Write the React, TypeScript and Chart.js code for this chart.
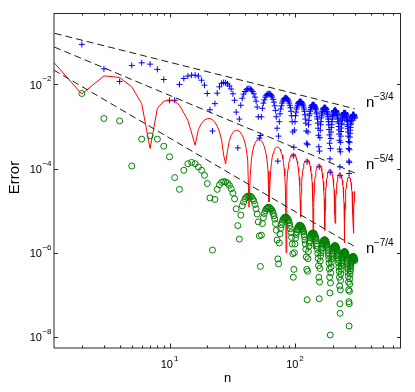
import React, { useEffect, useRef } from "react";
import { Chart, registerables } from "chart.js";

Chart.register(...registerables);

// n = 1 .. 300
const nValues: number[] = Array.from({ length: 300 }, (_, i) => i + 1);

// blue "+" series
const blueErr: (number | null)[] = [
  null, 0.0896, 0.0235, 0.0118, 0.0283, 0.0327, 0.0304, 0.0228, 0.0131, 0.0042,
  0.0042, 0.0100, 0.0139, 0.0158, 0.0166, 0.0166, 0.0158, 0.0126, 0.0096, 0.0061,
  0.0025, 7.8e-4, 0.0035, 0.0062, 0.0088, 0.0106, 0.0111, 0.0110, 0.0103, 0.0092,
  0.0078, 0.0060, 0.0042, 0.0022, 3.1e-4, 0.0015, 0.0032, 0.0047, 0.0059, 0.0068,
  0.0075, 0.0079, 0.0080, 0.0078, 0.0074, 0.0068, 0.0060, 0.0050, 0.0040, 0.0029,
  0.0017, 5.3e-4, 6.1e-4, 0.0017, 0.0027, 0.0036, 0.0043, 0.0050, 0.0055, 0.0058,
  0.0060, 0.0060, 0.0060, 0.0058, 0.0054, 0.0050, 0.0044, 0.0038, 0.0031, 0.0024,
  0.0017, 9.1e-4, 1.5e-4, 5.9e-4, 0.0013, 0.0020, 0.0026, 0.0031, 0.0036, 0.0040,
  0.0043, 0.0046, 0.0047, 0.0048, 0.0048, 0.0047, 0.0045, 0.0043, 0.0040, 0.0036,
  0.0032, 0.0028, 0.0023, 0.0018, 0.0013, 7.4e-4, 2.0e-4, 3.2e-4, 8.2e-4, 0.0013,
  0.0018, 0.0022, 0.0026, 0.0029, 0.0032, 0.0035, 0.0037, 0.0038, 0.0039, 0.0039,
  0.0039, 0.0039, 0.0037, 0.0036, 0.0034, 0.0032, 0.0029, 0.0026, 0.0023, 0.0019,
  0.0015, 0.0012, 7.8e-4, 4.0e-4, 1.45e-4, 3.7e-4, 7.4e-4, 0.0011, 0.0014, 0.0018,
  0.0020, 0.0023, 0.0025, 0.0028, 0.0029, 0.0031, 0.0032, 0.0032, 0.0033, 0.0033,
  0.0033, 0.0032, 0.0031, 0.0030, 0.0028, 0.0027, 0.0025, 0.0022, 0.0020, 0.0017,
  0.0015, 0.0012, 9.1e-4, 6.2e-4, 3.3e-4, 1.1e-4, 2.6e-4, 5.4e-4, 8.1e-4, 0.0011,
  0.0013, 0.0016, 0.0018, 0.0020, 0.0022, 0.0023, 0.0025, 0.0026, 0.0027, 0.0027,
  0.0028, 0.0028, 0.0028, 0.0028, 0.0027, 0.0027, 0.0026, 0.0025, 0.0023, 0.0022,
  0.0020, 0.0019, 0.0017, 0.0015, 0.0013, 0.0011, 8.5e-4, 6.3e-4, 4.0e-4, 1.7e-4,
  8.1e-5, 3.0e-4, 5.2e-4, 7.4e-4, 9.4e-4, 0.0011, 0.0013, 0.0015, 0.0017, 0.0018,
  0.0019, 0.0021, 0.0022, 0.0023, 0.0023, 0.0024, 0.0024, 0.0024, 0.0024, 0.0024,
  0.0024, 0.0023, 0.0023, 0.0022, 0.0021, 0.0020, 0.0019, 0.0018, 0.0016, 0.0015,
  0.0013, 0.0012, 0.0010, 8.3e-4, 6.6e-4, 4.7e-4, 2.9e-4, 1.1e-4, 6.8e-5, 2.5e-4,
  4.2e-4, 5.9e-4, 7.6e-4, 9.2e-4, 0.0011, 0.0012, 0.0014, 0.0015, 0.0016, 0.0017,
  0.0018, 0.0019, 0.0020, 0.0020, 0.0021, 0.0021, 0.0021, 0.0021, 0.0021, 0.0021,
  0.0021, 0.0021, 0.0020, 0.0020, 0.0019, 0.0018, 0.0017, 0.0016, 0.0015, 0.0014,
  0.0013, 0.0011, 0.0010, 8.8e-4, 7.4e-4, 5.9e-4, 4.4e-4, 3.0e-4, 1.5e-4, 7.6e-5,
  1.4e-4, 2.8e-4, 4.2e-4, 5.6e-4, 6.9e-4, 8.2e-4, 9.5e-4, 0.0011, 0.0012, 0.0013,
  0.0014, 0.0015, 0.0016, 0.0016, 0.0017, 0.0017, 0.0018, 0.0018, 0.0019, 0.0019,
  0.0019, 0.0019, 0.0019, 0.0019, 0.0018, 0.0018, 0.0018, 0.0017, 0.0016, 0.0016,
];

// red line series
const redErr: number[] = [
  0.061, 0.0059, 0.016, 0.0147, 0.0088, 0.0035, 0.0003, 0.0027, 0.0040, 0.0042,
  0.0040, 0.0032, 0.0021, 0.0014, 0.0007, 3.6e-4, 8.5e-4, 0.0012, 0.00143, 0.00153,
  0.00155, 0.00143, 0.00127, 0.00101, 7.5e-4, 4.8e-4, 2.1e-4, 1.3e-4, 2.7e-4, 4.6e-4,
  6.1e-4, 7.2e-4, 7.8e-4, 8.1e-4, 8.1e-4, 7.7e-4, 7.0e-4, 6.2e-4, 5.2e-4, 4.0e-4,
  2.8e-4, 1.6e-4, 1.2e-5, 6.8e-5, 1.7e-4, 2.6e-4, 3.4e-4, 4.0e-4, 4.4e-4, 4.8e-4,
  4.9e-4, 4.9e-4, 4.8e-4, 4.6e-4, 4.2e-4, 3.8e-4, 3.3e-4, 2.7e-4, 2.1e-4, 1.5e-4,
  8.6e-5, 1.6e-5, 3.5e-5, 9.1e-5, 1.4e-4, 1.9e-4, 2.3e-4, 2.6e-4, 2.9e-4, 3.1e-4,
  3.2e-4, 3.2e-4, 3.2e-4, 3.2e-4, 3.0e-4, 2.9e-4, 2.6e-4, 2.3e-4, 2.1e-4, 1.7e-4,
  1.4e-4, 1.0e-4, 6.6e-5, 3.0e-5, 1.0e-6, 3.8e-5, 7.1e-5, 1.0e-4, 1.3e-4, 1.5e-4,
  1.7e-4, 1.9e-4, 2.0e-4, 2.2e-4, 2.2e-4, 2.2e-4, 2.2e-4, 2.2e-4, 2.2e-4, 2.1e-4,
  2.0e-4, 1.8e-4, 1.6e-4, 1.5e-4, 1.3e-4, 1.06e-4, 8.4e-5, 6.2e-5, 3.9e-5, 1.7e-5,
  7e-6, 2.6e-5, 4.7e-5, 6.6e-5, 8.4e-5, 1.0e-4, 1.16e-4, 1.29e-4, 1.4e-4, 1.5e-4,
  1.56e-4, 1.6e-4, 1.65e-4, 1.66e-4, 1.65e-4, 1.63e-4, 1.6e-4, 1.5e-4, 1.45e-4, 1.37e-4,
  1.26e-4, 1.15e-4, 1.0e-4, 8.9e-5, 7.5e-5, 6.1e-5, 4.6e-5, 3.1e-5, 1.7e-5, 1.25e-6,
  1.2e-5, 2.6e-5, 4.0e-5, 5.2e-5, 6.4e-5, 7.5e-5, 8.5e-5, 9.5e-5, 1.02e-4, 1.09e-4,
  1.15e-4, 1.19e-4, 1.22e-4, 1.24e-4, 1.25e-4, 1.25e-4, 1.24e-4, 1.21e-4, 1.17e-4, 1.13e-4,
  1.07e-4, 1.01e-4, 9.4e-5, 8.6e-5, 7.7e-5, 6.9e-5, 5.9e-5, 4.9e-5, 4.0e-5, 3.0e-5,
  1.9e-5, 9.4e-6, 3.4e-6, 1.03e-5, 2.0e-5, 2.9e-5, 3.8e-5, 4.6e-5, 5.4e-5, 6.1e-5,
  6.8e-5, 7.3e-5, 7.9e-5, 8.3e-5, 8.7e-5, 9.1e-5, 9.3e-5, 9.5e-5, 9.6e-5, 9.6e-5,
  9.5e-5, 9.4e-5, 9.2e-5, 8.9e-5, 8.6e-5, 8.2e-5, 7.8e-5, 7.3e-5, 6.8e-5, 6.4e-5,
  5.8e-5, 5.1e-5, 4.5e-5, 3.8e-5, 3.1e-5, 2.3e-5, 1.6e-5, 8.7e-6, 5.0e-6, 5.7e-6,
  1.3e-5, 2.0e-5, 2.6e-5, 3.3e-5, 3.9e-5, 4.4e-5, 5.0e-5, 5.5e-5, 5.9e-5, 6.3e-5,
  6.7e-5, 7.0e-5, 7.3e-5, 7.5e-5, 7.6e-5, 7.7e-5, 7.8e-5, 7.8e-5, 7.7e-5, 7.6e-5,
  7.5e-5, 7.3e-5, 7.1e-5, 6.8e-5, 6.5e-5, 6.2e-5, 5.8e-5, 5.4e-5, 5.0e-5, 4.6e-5,
  4.1e-5, 3.6e-5, 3.1e-5, 2.6e-5, 2.1e-5, 1.5e-5, 1.0e-5, 4.8e-6, 1.7e-6, 5.8e-6,
  1.1e-5, 1.6e-5, 2.1e-5, 2.6e-5, 3.0e-5, 3.4e-5, 3.8e-5, 4.2e-5, 4.6e-5, 4.9e-5,
  5.2e-5, 5.5e-5, 5.7e-5, 5.9e-5, 6.0e-5, 6.2e-5, 6.3e-5, 6.3e-5, 6.3e-5, 6.3e-5,
  6.3e-5, 6.2e-5, 6.1e-5, 6.0e-5, 5.8e-5, 5.6e-5, 5.4e-5, 5.1e-5, 4.9e-5, 4.6e-5,
  4.3e-5, 3.9e-5, 3.6e-5, 3.2e-5, 2.8e-5, 2.4e-5, 2.1e-5, 1.7e-5, 1.3e-5, 8.4e-6,
  4.3e-6, 2.9e-6, 3.8e-6, 7.9e-6, 1.2e-5, 1.6e-5, 1.9e-5, 2.3e-5, 2.6e-5, 2.9e-5,
];

// green "o" series
const greenErr: (number | null)[] = [
  null, 0.0061, 0.00155, 0.00136, 1.15e-4, 5.0e-4, 6.0e-4, 5.0e-4, 3.4e-4, 1.9e-4,
  6.1e-5, 3.2e-5, 9.1e-5, 1.3e-4, 1.4e-4, 1.3e-4, 1.09e-4, 9.1e-5, 6.9e-5, 4.4e-5,
  2.0e-5, 1.15e-6, 1.85e-5, 3.2e-5, 4.1e-5, 4.7e-5, 4.9e-5, 4.8e-5, 4.5e-5, 4.0e-5,
  3.3e-5, 2.6e-5, 1.9e-5, 1.1e-5, 4.4e-6, 2.1e-6, 7.8e-6, 1.3e-5, 1.6e-5, 1.9e-5,
  2.1e-5, 2.2e-5, 2.2e-5, 2.2e-5, 2.1e-5, 1.9e-5, 1.7e-5, 1.4e-5, 1.1e-5, 8.3e-6,
  5.4e-6, 2.5e-6, 4.7e-7, 2.6e-6, 4.9e-6, 6.8e-6, 8.5e-6, 9.9e-6, 1.09e-5, 1.15e-5,
  1.19e-5, 1.2e-5, 1.17e-5, 1.1e-5, 1.06e-5, 9.7e-6, 8.6e-6, 7.5e-6, 6.3e-6, 4.9e-6,
  3.4e-6, 2.0e-6, 7.1e-7, 5.4e-7, 1.7e-6, 2.8e-6, 3.8e-6, 4.6e-6, 5.3e-6, 5.9e-6,
  6.4e-6, 6.7e-6, 6.9e-6, 7.0e-6, 6.9e-6, 6.8e-6, 6.5e-6, 6.1e-6, 5.7e-6, 5.1e-6,
  4.4e-6, 3.7e-6, 3.0e-6, 2.3e-6, 1.6e-6, 9.4e-7, 2.6e-7, 4.0e-7, 1.0e-6, 1.6e-6,
  2.2e-6, 2.7e-6, 3.1e-6, 3.5e-6, 3.8e-6, 4.1e-6, 4.2e-6, 4.4e-6, 4.5e-6, 4.4e-6,
  4.4e-6, 4.3e-6, 4.1e-6, 3.9e-6, 3.7e-6, 3.4e-6, 3.1e-6, 2.7e-6, 2.4e-6, 2.0e-6,
  1.6e-6, 1.2e-6, 7.9e-7, 4.0e-7, 7.6e-8, 3.6e-7, 7.2e-7, 1.06e-6, 1.4e-6, 1.7e-6,
  1.9e-6, 2.2e-6, 2.4e-6, 2.6e-6, 2.7e-6, 2.8e-6, 2.9e-6, 2.9e-6, 2.9e-6, 2.9e-6,
  2.9e-6, 2.8e-6, 2.7e-6, 2.6e-6, 2.4e-6, 2.3e-6, 2.1e-6, 1.9e-6, 1.65e-6, 1.43e-6,
  1.2e-6, 9.7e-7, 7.3e-7, 4.9e-7, 2.6e-7, 8.0e-8, 2.0e-7, 4.2e-7, 6.3e-7, 8.3e-7,
  1.0e-6, 1.2e-6, 1.3e-6, 1.5e-6, 1.6e-6, 1.7e-6, 1.8e-6, 1.9e-6, 1.9e-6, 2.0e-6,
  2.0e-6, 2.0e-6, 2.0e-6, 2.0e-6, 1.9e-6, 1.9e-6, 1.8e-6, 1.7e-6, 1.6e-6, 1.5e-6,
  1.4e-6, 1.26e-6, 1.13e-6, 9.9e-7, 8.5e-7, 7.0e-7, 5.6e-7, 4.1e-7, 2.6e-7, 1.1e-7,
  1.1e-8, 1.9e-7, 3.3e-7, 4.6e-7, 5.9e-7, 7.0e-7, 8.2e-7, 9.2e-7, 1.0e-6, 1.1e-6,
  1.2e-6, 1.26e-6, 1.32e-6, 1.37e-6, 1.41e-6, 1.44e-6, 1.45e-6, 1.46e-6, 1.46e-6, 1.45e-6,
  1.42e-6, 1.39e-6, 1.35e-6, 1.3e-6, 1.24e-6, 1.18e-6, 1.1e-6, 1.02e-6, 9.4e-7, 8.5e-7,
  7.6e-7, 6.6e-7, 5.6e-7, 4.6e-7, 3.6e-7, 2.6e-7, 1.6e-7, 6.1e-8, 3.6e-8, 1.3e-7,
  2.2e-7, 3.1e-7, 4.0e-7, 4.8e-7, 5.6e-7, 6.3e-7, 7.0e-7, 7.6e-7, 8.1e-7, 8.6e-7,
  9.1e-7, 9.4e-7, 9.7e-7, 1.0e-6, 1.0e-6, 1.03e-6, 1.05e-6, 1.05e-6, 1.05e-6, 1.05e-6,
  1.03e-6, 1.0e-6, 9.8e-7, 9.5e-7, 9.0e-7, 8.6e-7, 8.2e-7, 7.7e-7, 7.1e-7, 6.5e-7,
  5.9e-7, 5.3e-7, 4.6e-7, 4.0e-7, 3.4e-7, 2.7e-7, 2.0e-7, 1.3e-7, 6.8e-8, 1.8e-8,
  6.1e-8, 1.2e-7, 1.8e-7, 2.4e-7, 3.1e-7, 3.7e-7, 4.2e-7, 4.7e-7, 5.2e-7, 5.7e-7,
  6.1e-7, 6.5e-7, 6.8e-7, 7.1e-7, 7.4e-7, 7.6e-7, 7.8e-7, 7.9e-7, 8.0e-7, 8.0e-7,
  8.1e-7, 8.0e-7, 8.0e-7, 7.9e-7, 7.7e-7, 7.5e-7, 7.3e-7, 7.1e-7, 6.8e-7, 6.5e-7,
];

// dashed reference lines (end points)
const refN = [1, 300];
const ref34 = [0.19, 0.00264];
const ref54 = [0.098, 7.85e-5];
const ref74 = [0.03, 1.39e-6];

// axes
const X_MIN = 1.2;
const X_MAX = 700;
const Y_MIN = 5.4e-9;
const Y_MAX = 0.5;
const xMajorTicks = [10, 100];
const xMajorExp = ["1", "2"];
const yMajorTicks = [1e-8, 1e-6, 1e-4, 1e-2];
const yMajorExp = ["\u22128", "\u22126", "\u22124", "\u22122"];

// annotations "n^-p"
const annN = 368;
const annY = [2.9e-3, 1e-4, 1e-6];
const annExp = ["\u22123/4", "\u22125/4", "\u22127/4"];

const FONT = '"Liberation Sans", Arial, Helvetica, sans-serif';

const toPts = (xs: number[], ys: (number | null)[]) =>
  xs.map((x, i) => ({ x, y: ys[i] })).filter((p) => p.y != null) as { x: number; y: number }[];

const axesPlugin = {
  id: "matlabAxes",
  afterDatasetsDraw(chart: any) {
    const { ctx, chartArea: a, scales } = chart;
    const xs = scales.x;
    const ys = scales.y;
    ctx.save();
    ctx.strokeStyle = "#262626";
    ctx.lineWidth = 1;
    // box
    ctx.beginPath();
    ctx.moveTo(a.left, a.top + 0.5);
    ctx.lineTo(a.right, a.top + 0.5);
    ctx.moveTo(a.right - 0.5, a.top);
    ctx.lineTo(a.right - 0.5, a.bottom);
    ctx.stroke();
    ctx.beginPath();
    ctx.moveTo(a.left, a.top);
    ctx.lineTo(a.left, a.bottom);
    ctx.moveTo(a.left, a.bottom);
    ctx.lineTo(a.right, a.bottom);
    ctx.stroke();

    // x ticks
    const xMinor: number[] = [];
    for (const dec of [1, 10, 100]) {
      for (let k = 2; k <= 9; k++) {
        const v = k * dec;
        if (v > X_MIN && v < X_MAX) xMinor.push(v);
      }
    }
    ctx.beginPath();
    for (const v of xMinor) {
      const px = Math.round(xs.getPixelForValue(v)) + 0.5;
      ctx.moveTo(px, a.bottom);
      ctx.lineTo(px, a.bottom - 2.5);
      ctx.moveTo(px, a.top);
      ctx.lineTo(px, a.top + 2.5);
    }
    for (const v of xMajorTicks) {
      const px = Math.round(xs.getPixelForValue(v)) + 0.5;
      ctx.moveTo(px, a.bottom);
      ctx.lineTo(px, a.bottom - 4.5);
      ctx.moveTo(px, a.top);
      ctx.lineTo(px, a.top + 4.5);
    }
    for (const v of yMajorTicks) {
      const py = Math.round(ys.getPixelForValue(v)) + 0.5;
      ctx.moveTo(a.left, py);
      ctx.lineTo(a.left + 4, py);
      ctx.moveTo(a.right, py);
      ctx.lineTo(a.right - 4, py);
    }
    ctx.stroke();

    // tick labels
    ctx.fillStyle = "#000";
    ctx.textAlign = "left";
    ctx.textBaseline = "alphabetic";
    const bigFont = `11px ${FONT}`;
    const smallFont = `8px ${FONT}`;
    xMajorTicks.forEach((v, i) => {
      const px = xs.getPixelForValue(v);
      ctx.font = bigFont;
      const w1 = ctx.measureText("10").width;
      ctx.font = smallFont;
      const w2 = ctx.measureText(xMajorExp[i]).width;
      const start = px - (w1 + w2 + 1) / 2;
      ctx.font = bigFont;
      ctx.fillText("10", start, a.bottom + 19.5);
      ctx.font = smallFont;
      ctx.fillText(xMajorExp[i], start + w1 + 1, a.bottom + 12.5);
    });
    yMajorTicks.forEach((v, i) => {
      const py = ys.getPixelForValue(v);
      ctx.font = smallFont;
      const w2 = ctx.measureText(yMajorExp[i]).width;
      const right = a.left - 2.5;
      ctx.fillText(yMajorExp[i], right - w2, py - 3);
      ctx.font = bigFont;
      const w1 = ctx.measureText("10").width;
      ctx.fillText("10", right - w2 - 0.5 - w1, py + 4.5);
    });

    // axis titles
    ctx.font = `13px ${FONT}`;
    ctx.textAlign = "center";
    ctx.fillText("n", (a.left + a.right) / 2, a.bottom + 34);
    ctx.save();
    ctx.translate(15, (a.top + a.bottom) / 2 - 3);
    ctx.rotate(-Math.PI / 2);
    ctx.font = `15px ${FONT}`;
    ctx.textBaseline = "middle";
    ctx.fillText("Error", 0, 0);
    ctx.restore();

    // annotations
    ctx.textAlign = "left";
    ctx.textBaseline = "alphabetic";
    annY.forEach((v, i) => {
      const px = xs.getPixelForValue(annN);
      const py = ys.getPixelForValue(v);
      ctx.font = `15px ${FONT}`;
      ctx.fillText("n", px, py);
      const wn = ctx.measureText("n").width;
      ctx.font = `10px ${FONT}`;
      ctx.fillText(annExp[i], px + wn - 0.5, py - 7);
    });
    ctx.restore();
  },
};

export default function App() {
  const ref = useRef<HTMLCanvasElement | null>(null);
  useEffect(() => {
    if (!ref.current) return;
    const dash = (ys: number[]) => ({
      data: toPts(refN, ys),
      showLine: true,
      borderColor: "#1a1a1a",
      borderWidth: 1,
      borderDash: [7, 4],
      pointRadius: 0,
      clip: 0,
    });
    const chart = new Chart(ref.current, {
      type: "scatter",
      data: {
        datasets: [
          dash(ref34) as any,
          dash(ref54) as any,
          dash(ref74) as any,
          {
            data: toPts(nValues, greenErr),
            pointStyle: "circle",
            pointRadius: 3,
            borderColor: "rgb(0,128,0)",
            backgroundColor: "rgba(0,0,0,0)",
            borderWidth: 1,
          },
          {
            data: toPts(nValues, redErr),
            showLine: true,
            borderColor: "rgb(255,0,0)",
            borderWidth: 1,
            pointRadius: 0,
            tension: 0,
            clip: 0,
          } as any,
          {
            data: toPts(nValues, blueErr),
            pointStyle: "cross",
            pointRadius: 3,
            borderColor: "rgb(0,0,255)",
            borderWidth: 1,
          },
        ],
      },
      options: {
        responsive: false,
        maintainAspectRatio: false,
        animation: false,
        events: [],
        layout: { padding: { left: 54, top: 13, right: 14, bottom: 44 } },
        plugins: { legend: { display: false }, tooltip: { enabled: false } },
        scales: {
          x: { type: "logarithmic", min: X_MIN, max: X_MAX, display: false },
          y: { type: "logarithmic", min: Y_MIN, max: Y_MAX, display: false },
        },
      },
      plugins: [axesPlugin],
    });
    return () => chart.destroy();
  }, []);
  return (
    <div style={{ position: "fixed", left: 0, top: 0, width: 415, height: 392, background: "#fff" }}>
      <canvas ref={ref} width={415} height={392} style={{ width: 415, height: 392, display: "block" }} />
    </div>
  );
}
